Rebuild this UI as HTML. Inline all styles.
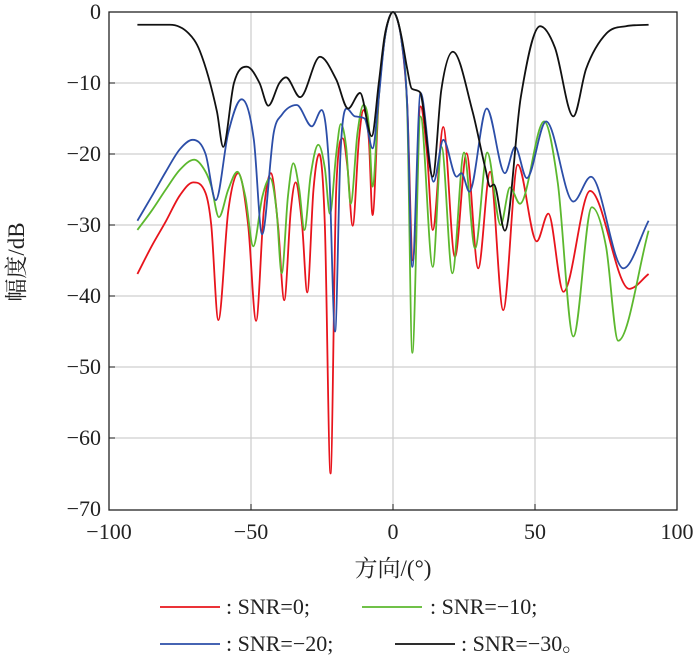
<!DOCTYPE html>
<html><head><meta charset="utf-8"><style>
body{margin:0;background:#fff;}
svg text{font-family:"Liberation Serif","Noto Serif CJK SC",serif;fill:#222;}
</style></head><body>
<svg id="chart" width="700" height="657" viewBox="0 0 700 657" xmlns="http://www.w3.org/2000/svg">
<g id="grid"></g>
<g id="series"></g>
<rect x="109" y="12" width="568" height="498" fill="none" stroke="#222" stroke-width="1.3"/>
<g id="ticks"></g>
<text x="393" y="576" font-size="23" text-anchor="middle">方向/(°)</text>
<text transform="translate(24,262) rotate(-90)" font-size="23" text-anchor="middle">幅度/dB</text>
<g font-size="22">
<g><line x1="160" y1="607" x2="220" y2="607" stroke="#e8141c" stroke-width="1.8"/><text x="226" y="614">: SNR=0;</text></g>
<g><line x1="362" y1="607" x2="422" y2="607" stroke="#5cb82e" stroke-width="1.8"/><text x="430" y="614">: SNR=−10;</text></g>
<g><line x1="160" y1="644" x2="220" y2="644" stroke="#2c4ea8" stroke-width="1.8"/><text x="226" y="651">: SNR=−20;</text></g>
<g><line x1="395" y1="644" x2="455" y2="644" stroke="#111" stroke-width="1.8"/><text x="461" y="651">: SNR=−30。</text></g>
</g>
</svg>
<script>
const xTicks=[-100,-50,0,50,100];
const yTicks=[0,-10,-20,-30,-40,-50,-60,-70];
const redX=[-90,-85,-80,-75,-70.3,-66,-64,-61.5,-58,-54.5,-51,-48.2,-45.5,-43,-40.5,-38.3,-36,-34.3,-32,-30.2,-28,-26,-24,-22,-20,-17.7,-16,-14.2,-12,-10.4,-8.5,-7.2,-5,-3,-1.5,0,1.5,3,5,7,9.7,12,14,17.7,21.8,25.9,30,34.2,38.8,43.9,50.6,54.7,60,69.4,83.2,90];
const redY=[-36.9,-33,-29.5,-25.8,-24,-25.5,-30,-43.4,-28,-22.7,-30,-43.5,-28,-22.7,-30,-40.6,-28,-24,-30,-39.5,-25,-20,-30,-65,-25,-17.8,-22,-30.1,-18,-13.8,-18,-28.6,-12,-4,-1,0,-1,-4,-13,-35,-13.3,-20,-30.7,-16.2,-34.5,-19.9,-36.1,-22.5,-42,-21.5,-32.3,-28.4,-39.4,-25.2,-39,-36.9];
const greenX=[-90,-85,-80,-75,-70,-66,-64,-61.3,-58,-54.8,-52,-49.2,-46,-43.3,-41,-39.2,-37,-35.1,-33,-31.2,-29,-26.3,-24,-22.2,-20,-18.4,-16.5,-14.9,-12.5,-10.4,-8.5,-7.2,-5,-3,-1.5,0,1.5,3,5,6.8,9.7,14,17.1,20.9,25,28.9,33.2,37.9,41.2,44.7,53.2,58,63.5,70,75,79.3,90];
const greenY=[-30.7,-28,-25,-22.2,-20.8,-22.5,-24.5,-28.9,-25,-22.5,-26,-33,-26,-23.4,-28,-36.8,-26,-21.3,-25,-30.7,-23,-18.7,-22,-28.4,-20,-15.8,-19,-27,-17,-13.1,-16,-24.6,-12,-4,-1,0,-1,-4,-14,-48,-14.7,-35.9,-19,-36.8,-19.8,-33.3,-19.8,-30,-24.7,-27,-15.4,-24,-45.7,-27.5,-33,-46.3,-30.8];
const blueX=[-90,-85,-80,-75,-70.5,-66,-62.4,-58,-53.3,-49,-46.1,-42,-39.2,-33.9,-28.6,-25.1,-22.5,-20.4,-18.5,-16.3,-13.4,-10,-7.2,-5,-3,-1.5,0,1.5,3,5,6.8,9.7,14.3,17.7,22.4,24.1,26.9,33,39.4,43,47.1,53.9,63.5,69.7,81.1,90];
const blueY=[-29.4,-26,-22.5,-19.3,-18,-20,-26.5,-17,-12.3,-18,-31.3,-17,-14.5,-13.1,-16.1,-13.8,-22,-45,-20,-13.6,-14.7,-15,-19.2,-12,-4,-1,0,-1,-4,-13,-35.9,-11.4,-23.9,-18,-23.2,-22.7,-25.3,-13.6,-22.7,-19,-23.4,-15.4,-26.7,-23.2,-36.1,-29.4];
const blackX=[-90,-78.5,-72,-68,-62,-59.8,-56,-51.5,-47,-43.9,-40,-37.7,-32.7,-25.7,-20,-15.8,-11.6,-7.5,-5,-3,-1.5,0,1.5,3,5,6.6,9.5,14,17,21.1,28,32.5,34.2,35.5,39.4,45,51.8,57,63.5,68,75.2,82,90];
const blackY=[-1.8,-1.8,-3,-5.5,-14,-19,-10,-7.7,-10,-13.2,-10,-9.2,-12,-6.3,-9.5,-13.6,-11.4,-17.5,-10,-3.5,-1,0,-1,-3.5,-8,-10.8,-11.3,-23.2,-11,-5.6,-14,-22,-24.6,-24.3,-30.8,-12,-2,-5,-14.7,-8,-3,-2,-1.8];
const X0=393,XS=2.84,Y0=12,YS=7.1;
function xp(d){return X0+d*XS;}
function yp(v){return Y0-v*YS;}
const NS='http://www.w3.org/2000/svg';
const grid=document.getElementById('grid'),ticks=document.getElementById('ticks'),ser=document.getElementById('series');
xTicks.forEach(t=>{
  if(t>-100&&t<100){const l=document.createElementNS(NS,'line');
  
  
  l.setAttribute('x1',xp(t));l.setAttribute('x2',xp(t));l.setAttribute('y1',12);l.setAttribute('y2',510);l.setAttribute('stroke','#cfcfcf');l.setAttribute('stroke-width','1.3');grid.appendChild(l);
  const k=document.createElementNS(NS,'line');
  
  
  k.setAttribute('x1',xp(t));k.setAttribute('x2',xp(t));k.setAttribute('y1',510);k.setAttribute('y2',504);k.setAttribute('stroke','#222');ticks.appendChild(k);}
  const tx=document.createElementNS(NS,'text');
  
  
  tx.setAttribute('x',xp(t));tx.setAttribute('y',539);tx.setAttribute('font-size','22');tx.setAttribute('text-anchor','middle');
  tx.textContent=t<0?'−'+(-t):String(t);ticks.appendChild(tx);
});
yTicks.forEach(t=>{
  if(t<0&&t>-70){const l=document.createElementNS(NS,'line');
  
  
  l.setAttribute('x1',109);l.setAttribute('x2',677);l.setAttribute('y1',yp(t));l.setAttribute('y2',yp(t));l.setAttribute('stroke','#cfcfcf');l.setAttribute('stroke-width','1.3');grid.appendChild(l);
  const k=document.createElementNS(NS,'line');
  
  
  k.setAttribute('x1',109);k.setAttribute('x2',115);k.setAttribute('y1',yp(t));k.setAttribute('y2',yp(t));k.setAttribute('stroke','#222');ticks.appendChild(k);}
  const tx=document.createElementNS(NS,'text');
  
  
  tx.setAttribute('x',101);tx.setAttribute('y',yp(t)+7);tx.setAttribute('font-size','22');tx.setAttribute('text-anchor','end');
  tx.textContent=t<0?'−'+(-t):String(t);ticks.appendChild(tx);
});
function mono(xs,ys){
  const n=xs.length,d=[],m=new Array(n);
  for(let i=0;i<n-1;i++)d.push((ys[i+1]-ys[i])/(xs[i+1]-xs[i]));
  m[0]=d[0];m[n-1]=d[n-2];
  for(let i=1;i<n-1;i++){m[i]=(d[i-1]*d[i]<=0)?0:(d[i-1]+d[i])/2;}
  for(let i=0;i<n-1;i++){if(d[i]===0){m[i]=0;m[i+1]=0;continue;}
    const a=m[i]/d[i],b=m[i+1]/d[i],s=a*a+b*b;if(s>9){const t=3/Math.sqrt(s);m[i]=t*a*d[i];m[i+1]=t*b*d[i];}}
  let p='M'+xp(xs[0]).toFixed(2)+','+yp(ys[0]).toFixed(2);
  for(let i=0;i<n-1;i++){const h=xs[i+1]-xs[i];
    p+='C'+xp(xs[i]+h/3).toFixed(2)+','+yp(ys[i]+m[i]*h/3).toFixed(2)+' '+xp(xs[i+1]-h/3).toFixed(2)+','+yp(ys[i+1]-m[i+1]*h/3).toFixed(2)+' '+xp(xs[i+1]).toFixed(2)+','+yp(ys[i+1]).toFixed(2);}
  return p;
}
function draw(xs,ys,color,name){
  const p=document.createElementNS(NS,'path');
  
  
  p.setAttribute('d',mono(xs,ys));p.setAttribute('fill','none');p.setAttribute('stroke',color);p.setAttribute('stroke-width','1.8');p.setAttribute('stroke-linejoin','round');
  ser.appendChild(p);
}
draw(redX,redY,'#e8141c','series-snr0-line');
draw(greenX,greenY,'#5cb82e','series-snr-10-line');
draw(blueX,blueY,'#2c4ea8','series-snr-20-line');
draw(blackX,blackY,'#111','series-snr-30-line');
</script>
</body></html>
